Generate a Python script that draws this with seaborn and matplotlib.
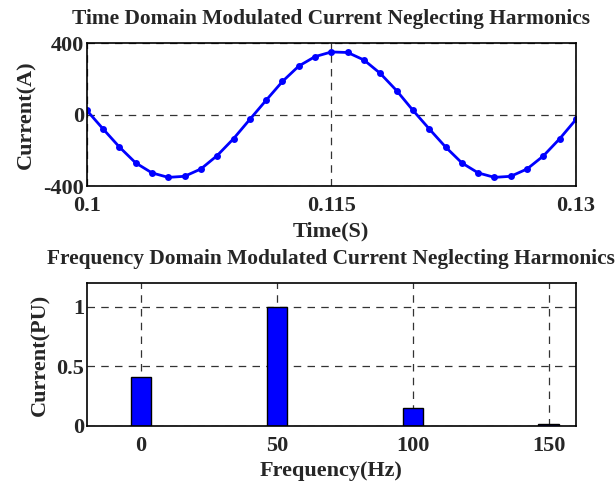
import numpy as np
import pandas as pd
import matplotlib
matplotlib.use("Agg")
import matplotlib.pyplot as plt
import seaborn as sns

# ---- data ----
time_s = [0.100, 0.101, 0.102, 0.103, 0.104, 0.105, 0.106, 0.107, 0.108, 0.109,
          0.110, 0.111, 0.112, 0.113, 0.114, 0.115, 0.116, 0.117, 0.118, 0.119,
          0.120, 0.121, 0.122, 0.123, 0.124, 0.125, 0.126, 0.127, 0.128, 0.129, 0.130]
current_a = [24, -80, -181, -270, -326, -351, -345, -304, -229, -135,
             -27, 80, 185, 271, 324, 350, 347, 305, 230, 134,
             24, -80, -181, -270, -326, -351, -345, -304, -231, -135, -27]

freq_hz = [0, 50, 100, 150]
current_pu = [0.415, 1.0, 0.147, 0.015]

time_ticks = [0.1, 0.115, 0.13]
time_tick_labels = ["0.1", "0.115", "0.13"]
cur_ticks = [-400, 0, 400]
freq_ticks = [0, 50, 100, 150]
pu_ticks = [0, 0.5, 1]
pu_tick_labels = ["0", "0.5", "1"]

sns.set_style("white")
plt.rcParams['font.family'] = ['Liberation Serif', 'DejaVu Serif']
plt.rcParams['font.weight'] = 'bold'
FS = 16
TFS = 15.4

fig = plt.figure(figsize=(6.15, 4.86), dpi=100)
ax1 = fig.add_axes([0.141, 0.617, 0.7956, 0.2945])
ax2 = fig.add_axes([0.141, 0.1235, 0.7956, 0.2942])

df1 = pd.DataFrame({"t": time_s, "i": current_a})
sns.lineplot(data=df1, x="t", y="i", ax=ax1, color="#0000ff", linewidth=2,
             marker="o", markersize=5, markeredgewidth=0)
ax1.set_xlim(0.1, 0.13)
ax1.set_ylim(-400, 400)
ax1.set_xticks(time_ticks)
ax1.set_xticklabels(time_tick_labels)
ax1.set_yticks(cur_ticks)
ax1.set_yticklabels([str(v) for v in cur_ticks])
ax1.set_xlabel("Time(S)", fontsize=FS, fontweight='bold', labelpad=4)
ax1.set_ylabel("Current(A)", fontsize=FS, fontweight='bold', labelpad=5)
ax1.set_title("Time Domain Modulated Current Neglecting Harmonics",
              fontsize=TFS, fontweight='bold', pad=14)

df2 = pd.DataFrame({"f": freq_hz, "pu": current_pu})
sns.barplot(data=df2, x="f", y="pu", ax=ax2, native_scale=True, width=0.152,
            color="#0000ff", saturation=1, edgecolor="black", linewidth=1)
ax2.set_xlim(-20, 160)
ax2.set_ylim(0, 1.2)
ax2.set_xticks(freq_ticks)
ax2.set_xticklabels([str(v) for v in freq_ticks])
ax2.set_yticks(pu_ticks)
ax2.set_yticklabels(pu_tick_labels)
ax2.set_xlabel("Frequency(Hz)", fontsize=FS, fontweight='bold', labelpad=4)
ax2.set_ylabel("Current(PU)", fontsize=FS, fontweight='bold', labelpad=4)
ax2.set_title("Frequency Domain Modulated Current Neglecting Harmonics",
              fontsize=TFS, fontweight='bold', pad=14)

for ax in (ax1, ax2):
    ax.grid(True, linestyle=(0, (6, 5)), color="#333333", linewidth=0.9)
    ax.set_axisbelow(True)
    ax.tick_params(axis='both', direction='in', length=3, labelsize=FS,
                   color='black')
    ax.tick_params(axis='x', pad=7)
    ax.tick_params(axis='y', pad=2)
    for lab in ax.get_xticklabels() + ax.get_yticklabels():
        lab.set_fontweight('bold')
    for lab in ax.get_yticklabels():
        lab.set_verticalalignment('center_baseline')
    for s in ax.spines.values():
        s.set_color('black')
        s.set_linewidth(1.2)
        s.set_visible(True)

fig.savefig("out.png", dpi=100)
